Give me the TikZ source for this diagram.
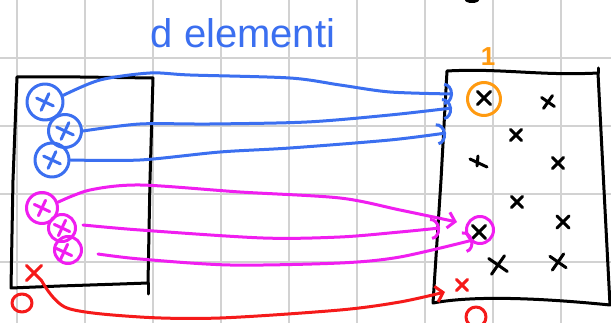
\documentclass[tikz,border=0pt]{standalone}
\usepackage{fontspec}
\setmainfont{Liberation Sans}
\usetikzlibrary{arrows.meta,shapes.misc}
\definecolor{gridgray}{HTML}{D2D2D2}
\definecolor{penblue}{HTML}{3B6FF0}
\definecolor{penmag}{HTML}{F01EF0}
\definecolor{penred}{HTML}{F51A1A}
\definecolor{penorange}{HTML}{FF9A10}
\tikzset{
  ink/.style={line width=3pt, line cap=round, line join=round},
  gridline/.style={gridgray, line width=1.6pt},
  xcross/.style={cross out, draw, ink, minimum size=#1, inner sep=0pt, outer sep=0pt},
  xcross/.default=12pt,
  ring/.style={circle, draw, ink, minimum size=#1, inner sep=0pt},
  link/.style={ink},
  arcend/.style={-{Arc Barb[length=9pt,width=22pt]}},
  barbend/.style={-{Straight Barb[length=7pt,width=16pt]}},
}
\begin{document}
\begin{tikzpicture}[x=1pt,y=-1pt]
\useasboundingbox (0,0) rectangle (611,323);
\fill[white] (0,0) rectangle (611,323);

% squared paper
\foreach \x in {17,85,...,561} \draw[gridline] (\x,0) -- (\x,323);
\foreach \y in {58,126,194,262} \draw[gridline] (0,\y) -- (611,\y);

% small stroke at the top edge
\fill (472,0) ellipse (7pt and 3pt);

% title
\node[text=penblue, font=\fontsize{40}{40}\selectfont, anchor=base] (title) at (243,48) {d elementi};

% left box
\draw[ink] (17,77) -- (80,77) -- (153,78) -- (150,180) -- (148,283)
  -- (120,284) -- (60,286) -- (11,288) -- (13,180) -- cycle;
\draw[ink] (148,283) -- (148,294);

% right box
\draw[ink] (447,71) .. controls (500,68) and (540,76) .. (598,73)
  -- (604,190) -- (610,305)
  .. controls (560,300) and (480,294) .. (433,303)
  -- (441,180) -- cycle;
\draw[ink] (598,73) -- (598,68);

% circled elements on the left
\node[ring=36pt, penblue] (b1) at (45,102) {};
\node[xcross=13pt, penblue, rotate=20] (bx1) at (45,102) {};
\node[ring=33pt, penblue] (b2) at (65,131) {};
\node[xcross=13pt, penblue, rotate=20] (bx2) at (65,131) {};
\node[ring=34pt, penblue] (b3) at (52,160) {};
\node[xcross=13pt, penblue, rotate=20] (bx3) at (52,160) {};

\node[ring=31pt, penmag] (m1) at (42,208) {};
\node[xcross, penmag, rotate=20] (mx1) at (42,208) {};
\node[ring=27pt, penmag] (m2) at (62,228) {};
\node[xcross, penmag, rotate=20] (mx2) at (62,228) {};
\node[ring=27pt, penmag] (m3) at (68,250) {};
\node[xcross, penmag, rotate=20] (mx3) at (64,252) {};

\node[xcross=15pt, penred] (rx1) at (34,273) {};
\draw[ink, penred] (22,303) circle[x radius=10pt, y radius=9pt];
\coordinate (r0) at (22,303);

% elements on the right
\node[xcross=13pt] (k1) at (484,98) {};
\node[xcross=11pt, rotate=10] (k2) at (548,102) {};
\node[xcross=11pt] (k3) at (516,135) {};
\coordinate (k4) at (478,163);
\draw[ink] (470,159) -- (487,167) (478,156) -- (477,166);
\node[xcross=11pt] (k5) at (558,163) {};
\node[xcross=11pt] (k6) at (517,202) {};
\node[xcross=12pt] (k7) at (563,222) {};
\node[xcross=13pt] (k8) at (479,232) {};
\node[xcross=16pt, rotate=10] (k9) at (498,265) {};
\node[xcross=14pt, rotate=10] (k10) at (558,262) {};

\node[ring=33pt, penorange] (o1) at (484,99) {};
\node[text=penorange, font=\fontsize{26}{26}\selectfont\bfseries, inner sep=0pt] (one) at (488,57) {1};
\node[ring=27pt, penmag] (mt) at (480,230) {};

\node[xcross=11pt, penred] (rx2) at (462,285) {};
\draw[ink, penred] (476,317) circle[x radius=10pt, y radius=10pt];
\coordinate (r1) at (476,317);

% arrow ends
\coordinate (tb1) at (453,94);
\coordinate (tb2) at (452,108);
\coordinate (tb3) at (446,133);
\coordinate (tm1) at (457,222);
\coordinate (tm2) at (440,228);
\coordinate (tm3) at (473,240);
\coordinate (tr) at (445,292);

% blue connectors
\draw[link, penblue, arcend] plot[smooth, tension=0.5] coordinates
  {(b1.20) (100,80) (150,73) (190,75) (290,78) (340,85) (390,92) (tb1)};
\draw[link, penblue, arcend] plot[smooth, tension=0.5] coordinates
  {(b2.east) (140,124) (210,124) (307,122) (390,115) (tb2)};
\draw[link, penblue, arcend] plot[smooth, tension=0.5] coordinates
  {(b3.east) (140,160) (220,152) (290,148) (390,140) (tb3)};

% magenta connectors
\draw[link, penmag, barbend] plot[smooth, tension=0.5] coordinates
  {(m1.20) (90,190) (140,185) (240,192) (340,198) (400,210) (tm1)};
\draw[link, penmag, arcend] plot[smooth, tension=0.5] coordinates
  {(83,225) (140,230) (263,238) (340,237) (400,232) (tm2)};
\draw[link, penmag, arcend] plot[smooth, tension=0.5] coordinates
  {(98,254) (140,259) (230,265) (340,263) (400,257) (tm3)};

% red connector
\draw[link, penred, barbend] plot[smooth, tension=0.5] coordinates
  {(rx1.south east) (67,308) (140,317) (220,318) (340,310) (400,302) (tr)};
\end{tikzpicture}
\end{document}
